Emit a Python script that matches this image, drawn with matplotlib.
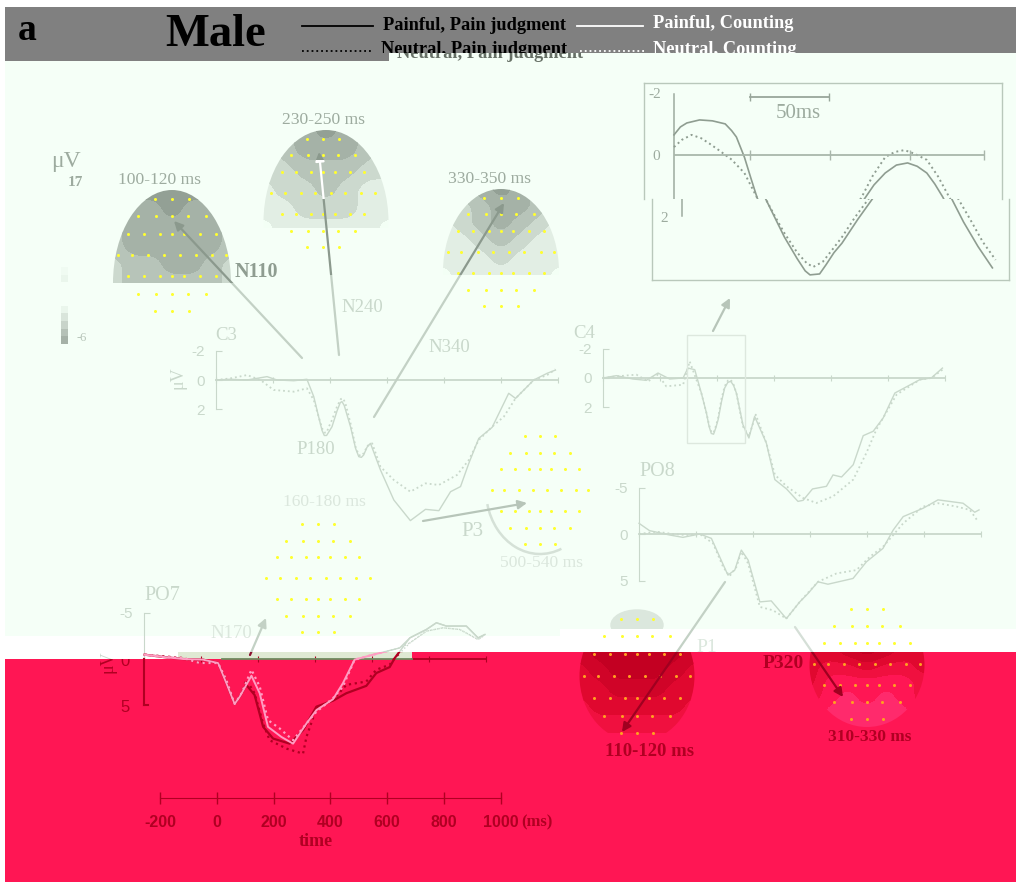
import numpy as np
import matplotlib
matplotlib.use("Agg")
import matplotlib.pyplot as plt
from matplotlib.colors import ListedColormap
from matplotlib.patches import Ellipse, FancyArrowPatch, Rectangle, Arc

W, H = 1016, 882

# ---- waveforms, time in ms, amplitude in uV
c3_solid_t = [-200,-150,-91,-21,14,73,119,143,160,172,180,188,196,207,225,236,242,250,272,290,301,310,318,330,342,377,424,482,535,582,623,658,687,722,769,827,851,915,962,991]
c3_solid_v = [0,-.05,0,-.23,0,.05,-.05,1.14,2.51,3.45,3.8,3.8,3.55,3.2,2.1,1.55,1.48,1.75,3.2,4.7,5.25,5.3,5.14,4.6,4.34,6.16,8.22,9.63,8.86,8.95,7.65,7.3,5.71,4.0,3.24,.91,1.26,0,-.46,-.68]
c3_dot_t = [-200,-150,-91,-44,2,73,119,143,160,172,180,188,196,207,225,238,246,254,272,290,301,310,318,332,348,377,424,482,535,582,646,687,722,769,810,851,915,962,991]
c3_dot_v = [0,-.11,-.34,0,.68,.8,.57,1.37,2.51,3.3,3.6,3.6,3.2,2.74,1.8,1.3,1.26,1.6,2.97,4.6,5.14,5.2,5.02,4.5,4.34,5.94,6.85,7.65,7.08,7.19,6.5,5.48,4.11,3.2,2.51,1.26,0,-.34,-.73]

c4_solid_t = [-200,-153,-95,-48,-7,34,81,98,122,145,163,172,180,188,196,204,216,227,238,248,258,268,291,312,332,373,403,444,484,502,535,584,607,637,678,713,748,783,824,912,952,991]
c4_solid_v = [0,-.16,.07,.16,-.34,.07,0,-.68,-.57,1.03,2.4,3.3,3.8,3.85,3.4,2.85,1.6,.68,.3,.23,.5,1.03,3.2,4.11,2.63,4.45,6.96,7.6,8.45,8.38,7.6,7.42,6.64,6.78,5.94,3.95,3.65,2.74,1.03,.11,0,-.68]
c4_dot_t = [-200,-153,-83,-42,-7,22,81,104,145,163,172,180,188,196,204,216,227,238,248,258,268,291,312,336,373,403,444,502,549,607,678,724,759,830,912,952,991]
c4_dot_v = [0,-.11,-.23,.23,-.23,.57,.46,-1.14,1.03,2.4,3.2,3.7,3.75,3.3,2.74,1.4,.57,.18,.11,.45,1.03,3.31,4.0,2.51,4.45,6.62,7.42,8.22,8.56,8.11,6.96,5.14,3.54,1.14,.11,0,-.57]

po8_solid_t = [-200,-163,-92,-46,13,54,83,112,136,159,183,224,264,317,364,393,428,463,551,598,656,692,727,797,849,937,978,993]
po8_solid_v = [-1.15,-.36,.11,.36,0,.47,2.45,4.42,3.88,1.73,2.81,7.3,7.19,9.1,7.3,6.4,5.14,5.4,4.78,2.99,1.55,-.43,-1.87,-2.77,-3.67,-3.31,-2.34,-2.59]
po8_dot_t = [-200,-139,-81,-34,13,60,95,118,142,159,183,224,270,317,364,428,493,563,610,656,692,727,797,849,914,961,990]
po8_dot_v = [0,-.25,0,.11,0,1.01,3.53,4.53,3.53,1.91,3.17,7.84,8.2,9.1,7.3,5.14,4.24,3.88,2.45,1.37,.11,-1.15,-2.95,-3.31,-2.95,-2.59,-1.33]

po7_pink_t = [-198,-133,-63,7,60,89,118,136,177,206,235,282,323,370,405,463,498,539,604,697,733,791,826,861,931,972,996]
po7_pink_v = [-.47,-.22,0,.07,.44,2.63,4.89,4.09,1.82,3.72,7.37,8.47,9.2,7.01,5.55,4.38,2.63,.07,-.47,-1.2,-2.3,-3.21,-3.94,-3.58,-3.58,-2.3,-2.66]
po7_dark_t = [-198,-133,-63,7,60,89,118,136,159,188,218,253,311,358,405,463,510,580,615,662,680,733,791,826,861,931,972,996]
po7_dark_v = [-.47,-.22,0,.07,.44,2.63,4.89,4.09,2.81,3.91,7.37,8.65,9.2,7.74,5.18,4.53,3.72,2.92,1.53,.88,-.11,-2.3,-3.21,-3.94,-3.58,-3.58,-2.3,-2.66]
po7_pinkdot_t = [-198,-133,-63,-5,60,89,118,142,177,206,235,276,323,370,405,463,498,539,604,697,733,791,849,908,972,990]
po7_pinkdot_v = [-.47,-.22,-.11,.44,.44,2.26,4.89,3.72,1.17,2.99,6.64,7.55,8.83,7.01,5.73,4.27,2.99,.07,-.47,-1.2,-1.75,-3.03,-3.39,-3.21,-2.12,-2.48]
po7_darkdot_t = [-198,-63,-5,60,89,118,142,159,188,218,241,300,358,370,405,463,510,580,615,662,680,733,791,849,908,972,990]
po7_darkdot_v = [-.47,-.11,.44,.44,2.26,4.89,3.72,2.26,3.72,7.01,8.83,9.74,10.29,8.47,5.36,4.45,2.81,2.45,1.17,.62,-.11,-1.75,-3.03,-3.39,-3.21,-2.12,-2.48]

inset_solid_t = [0,4,8,16,24,32,36,39,44,48,52,58,64,72,77,80,86,90,95,100,110,119,125,132,139,146,152,158,163,168,176,185,194]
inset_solid_v = [-.66,-.92,-1.05,-1.15,-1.12,-1.02,-.8,-.59,.07,.75,1.41,2.05,2.69,3.4,3.8,3.93,3.9,3.6,3.2,2.89,2.1,1.44,.98,.59,.33,.26,.37,.59,.95,1.38,2.2,3.0,3.7]
inset_dot_t = [0,5,11,17,22,28,36,44,48,52,58,64,72,78,82,88,94,100,108,117,124,132,138,144,150,158,165,172,180,188,196]
inset_dot_v = [-.26,-.5,-.66,-.55,-.38,-.16,.15,.59,1.0,1.41,2.0,2.56,3.2,3.55,3.67,3.5,3.1,2.69,2.05,1.41,.7,.07,-.1,-.16,-.05,.16,.7,1.38,2.1,2.85,3.44]

time_ticks = [-200,0,200,400,600,800,1000]

# ---- scalp maps, coarse potential grids (rows from the top of the head)
map_100 = [[4,5,5,5,5,5,4],[3,4,4,5,4,4,3],[3,4,4,4,4,4,3],[3,4,4,4,4,4,3],[2,3,3,4,4,3,2],[2,3,3,3,3,3,2]]
map_230 = [[2,3,4,5,4,3,2],[2,3,4,4,4,3,2],[2,2,3,3,3,2,2],[1,2,2,3,2,1,1],[1,1,2,2,2,1,1],[0,1,1,1,1,1,0]]
map_330 = [[2,3,4,5,4,3,2],[2,2,3,4,4,3,2],[1,2,3,4,3,2,1],[1,1,2,3,2,1,1],[1,1,1,2,1,1,1],[0,1,1,1,1,1,0]]
map_110 = [[4,5,5,5,5,5,4],[3,4,5,5,5,4,3],[3,3,4,4,4,3,3],[2,3,3,3,3,3,2],[1,2,2,2,2,2,1],[0,1,1,1,1,1,0]]
map_310 = [[3,3,4,5,4,3,3],[3,2,2,3,2,2,3],[3,1,1,1,1,1,2],[2,1,0,1,0,1,2],[2,0,0,0,0,0,2],[2,1,0,0,0,1,2]]
pale_levels = ["#f3fff5", "#e2eee4", "#ccd9ce", "#b7c4b9", "#a5b2a7", "#93a095"]
red_levels = ["#ff2a6c", "#ff1654", "#f0103f", "#e0082f", "#d00428", "#c30022"]
bar_colors = ["#f0fbf2", "#eaf6ec", "#f5fff7", "#f5fff7", "#f5fff7", "#eaf6ec", "#d9e5db", "#c8d4ca", "#b5c1b7", "#a5b1a7"]

# electrodes, in head coordinates
dot_y = [-.86,-.6,-.33,0,.33,.6,.86]
dot_x = [[-.3,0,.3],[-.6,-.28,0,.28,.6],[-.78,-.5,-.22,0,.22,.5,.78],[-.97,-.72,-.42,-.15,.15,.42,.72,.97],
         [-.78,-.5,-.22,0,.22,.5,.78],[-.6,-.28,0,.28,.6],[-.3,0,.3]]

PALE = "#c9d8cb"
LIGHT = "#dbe7dd"
MID = "#9dab9f"
RED = "#ff1654"
DARKRED = "#b00022"
SERIF = "Liberation Serif"
SANS = "Liberation Sans"

fig = plt.figure(figsize=(W/100, H/100), dpi=100, facecolor="white")
bg = fig.add_axes([0,0,1,1], zorder=0)
bg.set_xlim(0, W)
bg.set_ylim(H, 0)
bg.axis("off")
top = fig.add_axes([0,0,1,1], zorder=5, facecolor="none")
top.set_xlim(0, W)
top.set_ylim(H, 0)
top.axis("off")


def box(a, x0, y0, x1, y1, **kw):
    return a.add_patch(Rectangle((x0,y0), x1-x0, y1-y0, linewidth=0, **kw))


def clip_rect(x0, y0, x1, y1):
    return Rectangle((x0,y0), x1-x0, y1-y0, transform=bg.transData)


def clipped_text(x, y, s, rect, **kw):
    t = top.text(x, y, s, **kw)
    t.set_clip_on(True)
    t.set_clip_path(rect)
    return t


# damaged background blocks
box(bg, 5, 7, W, 61, color="#808080")
box(bg, 5, 61, W, 636, color="#f5fff7")
box(bg, 389, 53, W, 61, color="#f5fff7")
box(bg, 560, 629, W, 636, color="white")
box(bg, 5, 659, W, 882, color=RED)
box(bg, 412, 652, W, 659, color=RED)
box(bg, 178, 652, 412, 659, color="#dfe9d3")


def panel(x_start, y_zero, px_ms, px_uv, t0, t1, v0, v1):
    x0 = x_start
    x1 = x_start + (t1-t0)*px_ms
    y0 = y_zero + v0*px_uv
    y1 = y_zero + v1*px_uv
    ax = fig.add_axes([x0/W, 1-y1/H, (x1-x0)/W, (y1-y0)/H], zorder=2, facecolor="none")
    ax.set_xlim(t0, t1)
    ax.set_ylim(v1, v0)
    for s in ["top", "right"]:
        ax.spines[s].set_visible(False)
    return ax


def erp_panel(x_start, y_zero, px_uv, vmax, vtick, col=PALE, labelcol=PALE):
    ax = panel(x_start, y_zero, 0.285, px_uv, -200, 1010, -vmax, 11)
    ax.spines["left"].set_bounds(-vtick, vtick)
    ax.spines["left"].set_color(col)
    ax.spines["bottom"].set_position(("data", 0))
    ax.spines["bottom"].set_bounds(-200, 1000)
    ax.spines["bottom"].set_color(col)
    ax.spines["bottom"].set_linewidth(1.3)
    ax.set_xticks(time_ticks)
    ax.set_xticklabels([])
    ax.set_yticks([-vtick, 0, vtick])
    ax.set_yticklabels([str(-vtick), "0", str(vtick)], fontname=SANS, fontsize=11, color=labelcol)
    ax.tick_params(axis="x", direction="inout", length=5, color=col, width=.8)
    ax.tick_params(axis="y", direction="in", length=4, color=col, width=.8, pad=8)
    return ax


c3 = erp_panel(216, 380, 14.6, 3, 2)
c3.plot(c3_solid_t, c3_solid_v, color=PALE, lw=1, clip_on=False)
c3.plot(c3_dot_t, c3_dot_v, color=PALE, lw=1.3, ls=":", clip_on=False)

c4 = erp_panel(603, 378, 14.6, 3, 2)
c4.plot(c4_solid_t, c4_solid_v, color=PALE, lw=1, clip_on=False)
c4.plot(c4_dot_t, c4_dot_v, color=PALE, lw=1.3, ls=":", clip_on=False)

po8 = erp_panel(639, 534, 9.3, 6, 5)
po8.plot(po8_solid_t, po8_solid_v, color=PALE, lw=1, clip_on=False)
po8.plot(po8_dot_t, po8_dot_v, color=PALE, lw=1.3, ls=":", clip_on=False)

# PO7 runs through the colour break, so it is drawn pale above and red below
po7 = erp_panel(144, 659, 9.2, 6, 5, labelcol=PALE)
po7.spines["left"].set_bounds(-5, 0)
po7.spines["bottom"].set_color(DARKRED)
po7.spines["bottom"].set_bounds(740, 1000)
po7.tick_params(axis="x", color=DARKRED)
po7.set_yticks([-5])
po7.set_yticklabels(["-5"], fontname=SANS, fontsize=11, color=PALE)
po7b = panel(144, 659, 0.285, 9.2, -200, 1010, -6, 11)
po7b.axis("off")
po7b.plot([-200,-200], [0,5], color=DARKRED, lw=1.5, clip_on=False)
po7b.plot([-200,-185], [5,5], color=DARKRED, lw=1.5, clip_on=False)
po7b.plot([75,740], [0,0], color="#6f8a5f", lw=1.3, clip_on=False)
top.text(125, 708, "5", color=DARKRED, fontname=SANS, fontsize=12, ha="center", va="center")
clipped_text(125, 661, "0", clip_rect(0, 659, W, H), color=DARKRED, fontname=SANS, fontsize=12, ha="center", va="center")
for t, v, ls, lw, col, z in [(po7_darkdot_t, po7_darkdot_v, ":", 1.6, DARKRED, 2),
                             (po7_dark_t, po7_dark_v, "-", 1.6, DARKRED, 3),
                             (po7_pinkdot_t, po7_pinkdot_v, ":", 1.6, "#ff9cc2", 4),
                             (po7_pink_t, po7_pink_v, "-", 1.4, "#ff9cc2", 5)]:
    ln, = po7b.plot(t, v, color=col, lw=lw, ls=ls, zorder=z)
    ln.set_clip_path(clip_rect(0, 652, W, H))
    ln2, = po7b.plot(t, v, color=PALE, lw=1, ls=ls, zorder=z)
    ln2.set_clip_path(clip_rect(0, 0, W, 652))

# time axis of the whole figure
tax = panel(160, 790, 0.284, 8, -200, 1000, 0, 1)
tax.spines["left"].set_visible(False)
tax.set_yticks([])
tax.spines["bottom"].set_color(DARKRED)
tax.set_xticks(time_ticks)
tax.set_xticklabels(time_ticks, fontname=SANS, fontsize=11.5, color=DARKRED, fontweight="bold")
tax.tick_params(axis="x", direction="inout", length=9, width=1, color=DARKRED, pad=8)

# inset, with the lower part shifted 8 px by the image damage
box_col = "#b9c8bb"
for (x0, y0, x1, y1) in [(644, 83, 644, 199), (644, 83, 1002, 83), (1002, 83, 1002, 199),
                         (652, 199, 652, 280), (652, 280, 1009, 280), (1009, 199, 1009, 280)]:
    top.add_line(plt.Line2D([x0, x1], [y0, y1], color=box_col, lw=1))
for shift, y0, y1 in [(0, 0, 199), (8, 199, 300)]:
    ins = panel(674+shift, 155, 1.6, 30.5, 0, 200, -2.2, 4.1)
    ins.spines["bottom"].set_visible(False)
    ins.set_yticks([])
    ins.set_xticks([])
    ins.spines["left"].set_visible(False)
    a_line, = ins.plot([0,0], [-2,2], color=MID, lw=1.1)
    a_line.set_clip_path(clip_rect(0, y0, W, y1))
    for t, v, ls, lw in [(inset_solid_t, inset_solid_v, "-", 1.2), (inset_dot_t, inset_dot_v, ":", 1.4)]:
        ln, = ins.plot(t, v, color="#8f9d91", ls=ls, lw=lw, clip_on=True)
        ln.set_clip_path(clip_rect(0, y0, W, y1))
    if shift == 0:
        ins.plot([0,194], [0,0], color="#a9b7ab", lw=1.3)
        ins.plot([47.5,97.5,147.5,194], [0,0,0,0], ls="", marker="|", ms=7, color="#a9b7ab")
top.add_line(plt.Line2D([750, 829], [97, 97], color="#98a69a", lw=1.3, marker="|", ms=6))
top.add_patch(Rectangle((687, 335), 58, 108, fill=False, ec="#dde8de", lw=1))


def smooth(grid, n=70, win=9):
    g = np.array(grid, dtype=float)
    xi = np.linspace(0, g.shape[1]-1, n)
    yi = np.linspace(0, g.shape[0]-1, n)
    g = np.array([np.interp(xi, np.arange(g.shape[1]), r) for r in g])
    g = np.array([np.interp(yi, np.arange(g.shape[0]), c) for c in g.T]).T
    k = np.ones(win)/win
    for axis in (0, 1):
        pad = [(win//2, win//2) if i == axis else (0, 0) for i in range(2)]
        g = np.apply_along_axis(lambda r: np.convolve(r, k, mode="valid"), axis, np.pad(g, pad, mode="edge"))
    return g


# scalp maps: dome is the visible outline, y_start/y_end the surviving strip of the image
def scalp(cx, w, dome_cy, dome_h, y_start, y_end, grid, levels):
    g = smooth(grid)
    xs = np.linspace(cx-w/2, cx+w/2, g.shape[1])
    ys = np.linspace(y_start, y_end, g.shape[0])
    cs = bg.contourf(xs, ys, g, levels=np.arange(-.5, 6), cmap=ListedColormap(levels), zorder=1.4)
    cs.set_clip_path(Ellipse((cx, dome_cy), w, dome_h, transform=bg.transData))


def dots(cx, cy, w, h, col="#ffff30", ytop=None, col2=None):
    for ny, row in zip(dot_y, dot_x):
        for nx in row:
            c = col
            if col2 is not None and cy+ny*h/2 > ytop:
                c = col2
            top.plot(cx+nx*w/2*.95, cy+ny*h/2, ls="", marker="o", ms=2.2, mew=0, color=c)


scalp(172, 118, 283, 186, 190, 283, map_100, pale_levels)
dots(172, 255, 118, 130)
scalp(326, 125, 222, 184, 130, 228, map_230, pale_levels)
dots(323, 193, 112, 126)
scalp(501, 116, 272, 166, 189, 275, map_330, pale_levels)
dots(501, 252, 116, 126)
dots(318, 578, 112, 125)
dots(540, 490, 105, 125)
top.add_patch(Arc((540, 490), 108, 128, theta1=70, theta2=165, color="#d5e1d7", lw=1.8))

bg.add_patch(Ellipse((637, 625), 52, 30, color="#dbe7dd", zorder=1.2))
box(bg, 600, 629, 680, 652, color="white", zorder=1.3)
scalp(637, 115, 676, 132, 652, 742, map_110, red_levels)
dots(637, 676, 115, 132, "#ffff30", 652, "#ffa020")
scalp(867, 115, 665, 124, 652, 727, map_310, red_levels)
dots(867, 664, 115, 128, "#ffff30", 652, "#ffa020")


# arrows, recoloured where they cross other blocks of the picture
def arrow(x0, y0, x1, y1, parts):
    for col, ya, yb in parts:
        p = FancyArrowPatch((x0, y0), (x1, y1), arrowstyle="-|>", mutation_scale=13,
                            color=col, lw=1.6, shrinkA=0, shrinkB=0, zorder=3)
        top.add_patch(p)
        p.set_clip_path(clip_rect(0, ya, W, yb))


arrow(302, 358, 174, 221, [("#8b998d", 0, 283), ("#c3d1c5", 283, 400)])
arrow(339, 355, 319, 152, [("#ffffff", 160, 199), ("#8b998d", 0, 160), ("#8b998d", 199, 275), ("#c3d1c5", 275, 400)])
arrow(374, 417, 504, 203, [("#8b998d", 0, 275), ("#c3d1c5", 275, 430)])
arrow(713, 331, 730, 298, [("#b7c5b9", 0, 400)])
arrow(423, 521, 527, 503, [("#b7c5b9", 0, 600)])
arrow(250, 655, 266, 618, [("#c3d1c5", 0, 652), ("#8b1030", 652, 700)])
arrow(725, 582, 622, 732, [("#c3d1c5", 0, 652), ("#a00020", 652, 800)])
arrow(795, 627, 843, 697, [("#d5dfd7", 0, 652), ("#a00020", 652, 800)])

# legend
legfont = dict(fontname=SERIF, fontweight="bold", fontsize=13.2, va="center")
top.add_line(plt.Line2D([302, 373], [26, 26], color="black", lw=1.3))
top.add_line(plt.Line2D([577, 643], [26, 26], color="white", lw=1.3))
top.add_line(plt.Line2D([302, 373], [51, 51], color="black", lw=1.3, ls=":"))
top.add_line(plt.Line2D([580, 645], [51, 51], color="white", lw=1.3, ls=":"))
top.text(383, 26, "Painful, Pain judgment", color="black", **legfont)
top.text(653, 24, "Painful, Counting", color="white", **legfont)
clipped_text(381, 50, "Neutral, Pain judgment", clip_rect(0, 0, W, 53), color="black", **legfont)
clipped_text(653, 49, "Neutral, Counting", clip_rect(0, 0, W, 53), color="white", **legfont)
clipped_text(397, 54, "Neutral, Pain judgment", clip_rect(389, 53, W, 62), color="#667066", **legfont)
top.text(18, 30, "a", color="black", fontname=SERIF, fontweight="bold", fontsize=27, va="center")
top.text(165, 35, "Male", color="black", fontname=SERIF, fontweight="bold", fontsize=33.5, va="center")

# colour scale
for i, c in enumerate(bar_colors):
    box(top, 61, 267+i*7.7, 68, 267+(i+1)*7.7, color=c)

# labels
labels = [("\u03bcV", 66, 161, MID, 17, "normal", 0), ("17", 75, 183, MID, 11, "bold", 0), ("-6", 82, 338, "#b7c5b9", 9, "normal", 0),
          ("100-120 ms", 160, 180, MID, 12.6, "normal", 0), ("230-250 ms", 323, 120, MID, 12.6, "normal", 0),
          ("330-350 ms", 490, 179, MID, 12.6, "normal", 0), ("N110", 256, 272, "#8f9d91", 14.5, "bold", 0),
          ("N240", 362, 307, PALE, 13.5, "normal", 0), ("C3", 226, 335, PALE, 13.5, "normal", 0),
          ("N340", 449, 348, PALE, 13.5, "normal", 0), ("C4", 584, 333, PALE, 13.5, "normal", 0),
          ("\u03bcV", 178, 378, PALE, 13, "normal", 90), ("P180", 316, 449, PALE, 13.5, "normal", 0),
          ("160-180 ms", 324, 502, LIGHT, 12.6, "normal", 0), ("500-540 ms", 541, 563, LIGHT, 12.6, "normal", 0),
          ("P3", 472, 532, PALE, 15, "normal", 0), ("PO8", 657, 472, PALE, 14.5, "normal", 0),
          ("PO7", 162, 596, PALE, 14.5, "normal", 0), ("N170", 231, 634, LIGHT, 13.5, "normal", 0),
          ("P1", 707, 648, LIGHT, 14, "normal", 0),
          ("P320", 783, 663, DARKRED, 14, "bold", 0), ("110-120 ms", 650, 752, DARKRED, 13.5, "bold", 0),
          ("310-330 ms", 870, 737, DARKRED, 12.4, "bold", 0), ("(ms)", 537, 822, DARKRED, 12, "bold", 0),
          ("time", 316, 842, DARKRED, 13, "bold", 0), ("50ms", 798, 114, MID, 15, "normal", 0),
          ("-2", 655, 95, MID, 11, "normal", 0), ("0", 656, 156, MID, 11, "normal", 0), ("2", 664, 218, MID, 11, "normal", 0)]
for s, x, y, c, fs, fw, rot in labels:
    top.text(x, y, s, color=c, fontname=SERIF, fontsize=fs, fontweight=fw, rotation=rot, ha="center", va="center")
# the PO7 unit label is cut by the colour break
uv_font = dict(fontname=SERIF, fontsize=13, rotation=90, ha="center", va="center")
clipped_text(108, 662, "\u03bcV", clip_rect(0, 0, W, 659), color=PALE, **uv_font)
clipped_text(108, 662, "\u03bcV", clip_rect(0, 659, W, H), color=DARKRED, **uv_font)

fig.savefig("out.png", dpi=100)
